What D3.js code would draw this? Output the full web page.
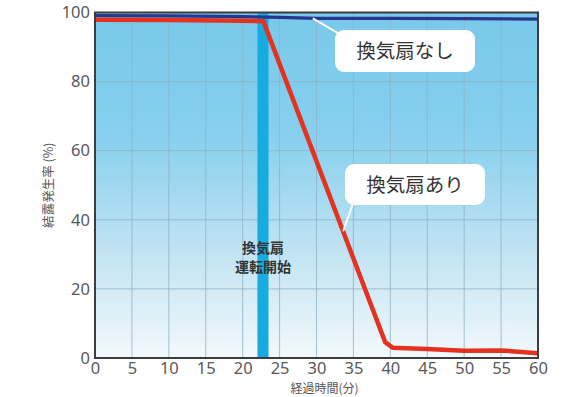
<!DOCTYPE html>
<html>
<head>
<meta charset="utf-8">
<script src="https://cdn.jsdelivr.net/npm/d3@7"></script>
<style>
  html, body { margin: 0; padding: 0; background: #ffffff; }
  svg { display: block; }
</style>
</head>
<body>
<svg id="chart" width="566" height="397"></svg>
<script>
// Condensation rate over elapsed time, with and without the ventilation fan
const minutes   = [0, 10, 20, 22.8, 39.3, 40.3, 45, 50, 55, 60];
const fanOn     = [97.9, 97.8, 97.6, 97.5, 4.6, 3, 2.6, 2.1, 2.2, 1.4];
const noFanTime = [0, 10, 20, 25, 30, 35, 40, 50, 60];
const noFan     = [99.1, 99.0, 98.8, 98.6, 98.3, 98.3, 98.3, 98.2, 98.1];
const fanStart  = [22, 23.5];          // fan switched on (minutes)
const xTicks    = [0, 5, 10, 15, 20, 25, 30, 35, 40, 45, 50, 55, 60];
const yTicks    = [0, 20, 40, 60, 80, 100];
const labelNoFan = "換気扇なし";
const labelFan   = "換気扇あり";
const fanNote    = ["換気扇", "運転開始"];
const xTitle     = "経過時間(分)";
const yTitle     = "結露発生率 (%)";

const svg = d3.select("#chart");
const plotL = 95, plotR = 538, plotT = 12.5, plotB = 358;
const x = d3.scaleLinear().domain([0, 60]).range([plotL, plotR]);
const y = d3.scaleLinear().domain([0, 100]).range([plotB, plotT]);

const fontNum = "'Noto Sans', 'Liberation Sans', sans-serif";
const fontJa  = "'Noto Sans CJK JP', 'Noto Sans', sans-serif";

// plot background gradient
const defs = svg.append("defs");
const grad = defs.append("linearGradient").attr("id", "bg")
  .attr("x1", 0).attr("y1", 0).attr("x2", 0).attr("y2", 1);
grad.append("stop").attr("offset", "0%").attr("stop-color", "#79c9eb");
grad.append("stop").attr("offset", "35%").attr("stop-color", "#86cfee");
grad.append("stop").attr("offset", "70%").attr("stop-color", "#c2e4f3");
grad.append("stop").attr("offset", "100%").attr("stop-color", "#f3f9fc");

svg.append("rect")
  .attr("x", plotL).attr("y", plotT)
  .attr("width", plotR - plotL).attr("height", plotB - plotT)
  .attr("fill", "url(#bg)");

// grid
const grid = svg.append("g");
grid.selectAll("line.v").data(xTicks.slice(1, -1)).join("line")
  .attr("class", "v")
  .attr("x1", d => x(d)).attr("x2", d => x(d))
  .attr("y1", plotT).attr("y2", plotB)
  .attr("stroke", "#8fb3c6").attr("stroke-width", 1).attr("opacity", 0.8);
grid.selectAll("line.h").data(yTicks.slice(1, -1)).join("line")
  .attr("class", "h")
  .attr("x1", plotL).attr("x2", plotR)
  .attr("y1", d => y(d)).attr("y2", d => y(d))
  .attr("stroke", "#8fb3c6").attr("stroke-width", 1).attr("opacity", 0.8);

// fan start band
svg.append("rect")
  .attr("x", x(fanStart[0])).attr("y", plotT)
  .attr("width", x(fanStart[1]) - x(fanStart[0]))
  .attr("height", plotB - plotT)
  .attr("fill", "#16ace0");

// series lines
const line = d3.line().x(d => x(d[0])).y(d => y(d[1]));
svg.append("path")
  .datum(noFanTime.map((t, i) => [t, noFan[i]]))
  .attr("d", line)
  .attr("fill", "none").attr("stroke", "#27378f").attr("stroke-width", 3.2);
svg.append("path")
  .datum(minutes.map((t, i) => [t, fanOn[i]]))
  .attr("d", line)
  .attr("fill", "none").attr("stroke", "#e3321f").attr("stroke-width", 4.5)
  .attr("stroke-linejoin", "round").attr("stroke-linecap", "butt");

// frame
svg.append("rect")
  .attr("x", plotL).attr("y", plotT)
  .attr("width", plotR - plotL).attr("height", plotB - plotT)
  .attr("fill", "none").attr("stroke", "#3d3d3d").attr("stroke-width", 2);

// axes (labels only, frame drawn above)
const xAxis = svg.append("g").attr("transform", `translate(0,${plotB})`)
  .call(d3.axisBottom(x).tickValues(xTicks).tickSize(0).tickPadding(4));
const yAxis = svg.append("g").attr("transform", `translate(${plotL},0)`)
  .call(d3.axisLeft(y).tickValues(yTicks).tickSize(0).tickPadding(5));
[xAxis, yAxis].forEach(g => {
  g.select(".domain").remove();
  g.selectAll("text")
    .attr("fill", "#595959")
    .attr("font-family", fontNum)
    .attr("font-size", 16.5);
});

// axis titles
svg.append("text")
  .attr("x", (plotL + plotR) / 2 + 8).attr("y", 393)
  .attr("text-anchor", "middle")
  .attr("font-family", fontJa).attr("font-size", 12)
  .attr("fill", "#555").text(xTitle);
svg.append("text")
  .attr("transform", `translate(53,${(plotT + plotB) / 2}) rotate(-90)`)
  .attr("text-anchor", "middle")
  .attr("font-family", fontJa).attr("font-size", 12.5)
  .attr("fill", "#555").text(yTitle);

// fan start note
const noteX = x((fanStart[0] + fanStart[1]) / 2);
svg.append("text")
  .attr("x", noteX).attr("y", 253)
  .attr("text-anchor", "middle")
  .attr("font-family", fontJa).attr("font-size", 14).attr("font-weight", "bold")
  .attr("fill", "#333")
  .selectAll("tspan").data(fanNote).join("tspan")
  .attr("x", noteX)
  .attr("dy", (d, i) => i === 0 ? 0 : 19)
  .text(d => d);

// callouts with leader lines
function callout(anchor, box, text) {
  svg.append("line")
    .attr("x1", anchor[0]).attr("y1", anchor[1])
    .attr("x2", box.x + 18).attr("y2", box.y + 12)
    .attr("stroke", "#ffffff").attr("stroke-width", 2);
  svg.append("rect")
    .attr("x", box.x).attr("y", box.y)
    .attr("width", box.w).attr("height", box.h)
    .attr("rx", 9).attr("fill", "#ffffff");
  svg.append("text")
    .attr("x", box.x + box.w / 2).attr("y", box.y + box.h / 2 + 7)
    .attr("text-anchor", "middle")
    .attr("font-family", fontJa).attr("font-size", 19.5)
    .attr("fill", "#333").text(text);
}
const noFanAt = 29.5;
callout([x(noFanAt), y(d3.scaleLinear().domain(noFanTime).range(noFan)(noFanAt))],
  { x: 335, y: 30, w: 140, h: 42 }, labelNoFan);
const fanAt = 33.6;
callout([x(fanAt), y(d3.scaleLinear().domain(minutes).range(fanOn)(fanAt))],
  { x: 345, y: 164, w: 140, h: 41 }, labelFan);
</script>
</body>
</html>
